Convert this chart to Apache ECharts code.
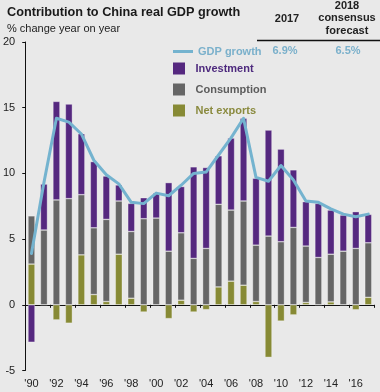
<!DOCTYPE html>
<html>
<head>
<meta charset="utf-8">
<script src="https://cdn.jsdelivr.net/npm/echarts@6/dist/echarts.min.js"></script>
<style>
html,body{margin:0;padding:0;background:#e9e9e9;}
#chart{width:380px;height:392px;}
</style>
</head>
<body>
<div id="chart"></div>
<script>
// ---- data ----
const categories = ["'90","'91","'92","'93","'94","'95","'96","'97","'98","'99","'00","'01","'02","'03","'04","'05","'06","'07","'08","'09","'10","'11","'12","'13","'14","'15","'16","'17"];
const netExports = [3.1, 0.0, -1.15, -1.4, 3.8, 0.78, 0.25, 3.85, 0.5, -0.55, 0.0, -1.05, 0.35, -0.55, -0.37, 1.36, 1.8, 1.49, 0.25, -4.0, -1.24, -0.77, 0.18, 0.0, 0.22, 0.0, -0.38, 0.57];
const consumption = [3.67, 5.69, 7.98, 8.08, 4.58, 5.08, 6.25, 4.05, 5.08, 6.55, 6.6, 4.08, 5.13, 3.53, 4.29, 6.29, 5.41, 6.41, 4.29, 5.23, 4.8, 5.89, 4.29, 3.6, 3.63, 4.08, 4.29, 4.15];
const investment = [-2.85, 3.5, 7.5, 7.2, 4.64, 5.04, 3.3, 1.22, 2.14, 1.6, 1.9, 5.22, 3.52, 6.97, 6.16, 3.69, 5.48, 6.3, 5.09, 8.07, 7.05, 4.38, 3.38, 4.12, 3.36, 2.75, 2.8, 2.16];
const gdpGrowth = [3.9, 9.3, 14.2, 13.9, 13.0, 11.0, 9.9, 9.2, 7.8, 7.7, 8.5, 8.3, 9.1, 10.0, 10.1, 11.4, 12.7, 14.2, 9.7, 9.4, 10.6, 9.5, 7.9, 7.8, 7.3, 6.9, 6.7, 6.9];
const headerCols = ["2017", "2018\nconsensus\nforecast"];
const headerVals = ["6.9%", "6.5%"];
const titleText = "Contribution to China real GDP growth";
const subtitleText = "% change year on year";

// ---- styles ----
const FONT = "'Liberation Sans', Arial, sans-serif";
const C_INV = '#55287f', C_CON = '#666666', C_NET = '#878a35', C_GDP = '#74b3cf';
const barBorder = {borderColor: 'rgba(255,255,255,0.55)', borderWidth: 0.6};

const chart = echarts.init(document.getElementById('chart'), null, {renderer: 'canvas'});
chart.setOption({
  backgroundColor: '#e9e9e9',
  textStyle: {fontFamily: FONT},
  animation: false,
  title: {
    text: titleText, subtext: subtitleText,
    left: 2, top: 1, itemGap: 4,
    textStyle: {fontSize: 12.7, fontWeight: 'bold', color: '#1a1a1a', fontFamily: FONT},
    subtextStyle: {fontSize: 11, color: '#222', fontFamily: FONT}
  },
  legend: [
    {
      data: [{name: 'GDP growth', icon: 'rect', textStyle: {color: '#7ab0cb'}}],
      left: 168, top: 41, itemWidth: 20, itemHeight: 3,
      itemStyle: {borderWidth: 0},
      textStyle: {fontSize: 11, fontWeight: 'bold', fontFamily: FONT},
      selectedMode: false
    },
    {
      orient: 'vertical',
      data: [
        {name: 'Investment', textStyle: {color: '#4e2a7e'}},
        {name: 'Consumption', textStyle: {color: '#5c5c5c'}},
        {name: 'Net exports', textStyle: {color: '#8a8a3e'}}
      ],
      icon: 'path://M0,0H10V10H0Z',
      left: 168, top: 57.5, itemWidth: 23, itemHeight: 12, itemGap: 9,
      itemStyle: {borderWidth: 0},
      textStyle: {fontSize: 11, fontWeight: 'bold', fontFamily: FONT},
      selectedMode: false
    }
  ],
  grid: {left: 23.5, right: 5.5, top: 42, bottom: 21.5, containLabel: false},
  xAxis: [
    {
      type: 'category', data: categories, position: 'bottom',
      axisLine: {show: false, onZero: false},
      axisTick: {show: false},
      axisLabel: {interval: 1, fontSize: 11, color: '#222', margin: 8}
    },
    {
      type: 'category', data: categories, position: 'bottom',
      axisLine: {show: true, onZero: true, lineStyle: {color: '#111', width: 1}},
      axisTick: {show: true, interval: 1, length: 3, lineStyle: {color: '#111'}},
      axisLabel: {show: false}
    }
  ],
  yAxis: {
    type: 'value', min: -5, max: 20, interval: 5,
    axisLine: {show: true, lineStyle: {color: '#111', width: 1}},
    axisTick: {show: true, length: 3, lineStyle: {color: '#111'}},
    splitLine: {show: false},
    axisLabel: {fontSize: 11, color: '#222', margin: 10}
  },
  graphic: [
    {type: 'text', x: 287, y: 18.5, style: {text: headerCols[0], textAlign: 'center', textVerticalAlign: 'middle', font: "bold 11px " + FONT, fill: '#222'}},
    {type: 'text', x: 347, y: 18, style: {text: headerCols[1], textAlign: 'center', textVerticalAlign: 'middle', font: "bold 11px " + FONT, fill: '#222', lineHeight: 12.5}},
    {type: 'line', shape: {x1: 257, y1: 40.5, x2: 380, y2: 40.5}, style: {stroke: '#111', lineWidth: 1.5}},
    {type: 'text', x: 285, y: 50.5, style: {text: headerVals[0], textAlign: 'center', textVerticalAlign: 'middle', font: "bold 11px " + FONT, fill: '#7ab0cb'}},
    {type: 'text', x: 348, y: 50.5, style: {text: headerVals[1], textAlign: 'center', textVerticalAlign: 'middle', font: "bold 11px " + FONT, fill: '#7ab0cb'}}
  ],
  series: [
    {name: 'Net exports', type: 'bar', stack: 'c', data: netExports, barWidth: 7, itemStyle: Object.assign({color: C_NET}, barBorder)},
    {name: 'Consumption', type: 'bar', stack: 'c', data: consumption, barWidth: 7, itemStyle: Object.assign({color: C_CON}, barBorder)},
    {name: 'Investment', type: 'bar', stack: 'c', data: investment, barWidth: 7, itemStyle: Object.assign({color: C_INV}, barBorder)},
    {name: 'GDP growth', type: 'line', data: gdpGrowth, symbol: 'none', z: 5,
     itemStyle: {color: C_GDP},
     lineStyle: {color: C_GDP, width: 3, cap: 'round', join: 'round'}}
  ]
});
</script>
</body>
</html>
